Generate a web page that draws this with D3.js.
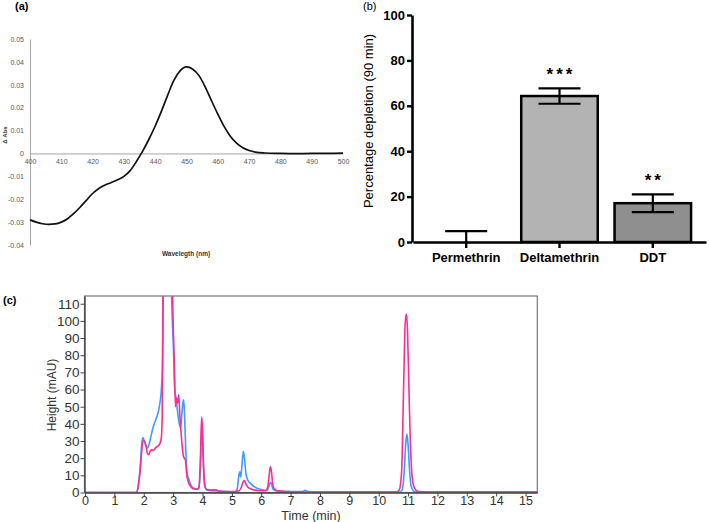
<!DOCTYPE html>
<html>
<head>
<meta charset="utf-8">
<script src="https://cdn.jsdelivr.net/npm/d3@7"></script>
<style>
  body { margin: 0; background: #fff; }
  svg { display: block; font-family: "Liberation Sans", Arial, sans-serif; }
</style>
</head>
<body>
<script>
// panel (a): difference spectrum
var aWavelength = [400, 402, 404, 406, 408, 410, 412, 414, 416, 418, 420, 422, 424, 426, 428, 430, 432, 434, 436, 438,
                   440, 442, 444, 446, 448, 450, 452, 454, 456, 458, 460, 462, 464, 466, 468, 470, 472, 475, 480, 485, 490, 495, 500];
var aDeltaAbs = [-0.0290, -0.0300, -0.0307, -0.0310, -0.0308, -0.0300, -0.0285, -0.0262, -0.0235, -0.0205, -0.0175,
                 -0.0153, -0.0138, -0.0127, -0.0115, -0.0100, -0.0075, -0.0035, 0.0010, 0.0062, 0.0120, 0.0185, 0.0255,
                 0.0320, 0.0362, 0.0378, 0.0368, 0.0340, 0.0290, 0.0230, 0.0172, 0.0118, 0.0075, 0.0045, 0.0025, 0.0013,
                 0.0006, 0.0002, 0.0000, -0.0001, 0.0000, 0.0000, 0.0001];
var aTicksX = [400, 410, 420, 430, 440, 450, 460, 470, 480, 490, 500];
var aTicksY = [0.05, 0.04, 0.03, 0.02, 0.01, 0, -0.01, -0.02, -0.03, -0.04];

// panel (b): percentage depletion
var bCategories = ["Permethrin", "Deltamethrin", "DDT"];
var bMeans = [0, 64.3, 17.1];
var bErrors = [4.8, 3.4, 3.9];
var bStars = ["", "***", "**"];
var bFills = ["#ffffff", "#b3b3b3", "#8f8f8f"];
var bTicksY = [0, 20, 40, 60, 80, 100];

// panel (c): chromatograms
var cBlueTime = [0, 1.75, 1.82, 1.88, 1.93, 1.97, 2.02, 2.08, 2.13, 2.18, 2.25, 2.32, 2.4, 2.48, 2.55, 2.6, 2.64, 2.67,
                 2.8, 2.93, 2.97, 3.01, 3.05, 3.1, 3.16, 3.21, 3.25, 3.29, 3.33, 3.36, 3.39, 3.43, 3.47, 3.53, 3.6, 3.7,
                 3.82, 3.88, 3.93, 3.97, 4.0, 4.04, 4.08, 4.15, 4.4, 4.8, 5.1, 5.18, 5.24, 5.27, 5.3, 5.34, 5.39, 5.43,
                 5.48, 5.55, 5.65, 5.8, 6.0, 6.2, 6.27, 6.31, 6.35, 6.4, 6.5, 7.0, 7.4, 7.5, 7.58, 8.0, 10.7, 10.8,
                 10.86, 10.92, 10.96, 11.0, 11.05, 11.1, 11.18, 11.3, 15.4];
var cBlueHeight = [0, 0, 4, 15, 28, 32, 30, 27, 26, 28, 33, 38, 42, 46, 52, 60, 75, 130,
                   400, 130, 102, 85, 62, 55, 46, 40, 38, 44, 52, 54, 45, 25, 12, 8, 4.5, 2.5,
                   2, 3, 15, 36, 30, 12, 3.5, 1.5, 1, 0.5, 0.4, 2, 10, 12, 9, 15, 24, 20,
                   11, 7, 5, 3, 1.8, 1.2, 4, 6, 5, 2, 1, 0.6, 0.5, 1.3, 0.6, 0.2, 0.2, 1.5,
                   10, 28, 34, 28, 13, 4, 1, 0.2, 0.2];
var cPinkTime = [0, 1.76, 1.82, 1.88, 1.93, 1.97, 2.02, 2.08, 2.12, 2.17, 2.22, 2.27, 2.33, 2.4, 2.48, 2.55, 2.6, 2.63,
                 2.66, 2.8, 2.96, 3.0, 3.04, 3.08, 3.11, 3.15, 3.19, 3.23, 3.28, 3.34, 3.38, 3.42, 3.46, 3.52, 3.6, 3.7,
                 3.82, 3.88, 3.93, 3.97, 4.0, 4.04, 4.08, 4.14, 4.3, 4.45, 4.55, 5.0, 5.25, 5.32, 5.38, 5.42, 5.48, 5.55,
                 5.7, 5.9, 6.15, 6.22, 6.27, 6.31, 6.35, 6.39, 6.45, 6.6, 7.0, 8.0, 10.6, 10.7, 10.78, 10.84, 10.9,
                 10.94, 10.98, 11.03, 11.08, 11.14, 11.22, 11.35, 12.0, 15.4];
var cPinkHeight = [0, 0, 5, 13, 24, 30, 30, 27, 23, 22, 24, 25, 24.5, 26, 27, 28.5, 32, 45,
                   130, 400, 130, 100, 75, 50, 55, 52, 57, 45, 33, 22, 20, 19, 11, 6, 3.5, 2,
                   1.8, 3, 20, 44, 38, 15, 4, 1.8, 1.5, 1.6, 0.8, 0.5, 1, 3, 6, 7, 5, 3,
                   1.8, 1.2, 1, 3, 10, 15, 12, 5, 2, 0.8, 0.3, 0.2, 0.2, 1.5, 12, 55, 98,
                   104, 95, 60, 28, 9, 2.5, 0.5, 0.2, 0.2];
var cTicksX = d3.range(0, 16);
var cTicksY = d3.range(0, 111, 10);

var svg = d3.select("body").append("svg")
    .attr("width", 709)
    .attr("height", 522);

// ---------- (a) ----------
var xA = d3.scaleLinear().domain([400, 500]).range([30, 343]);
var yA = d3.scaleLinear().domain([-0.04, 0.05]).range([245, 39]);

var fmtA = function(d) { return d === 0 ? "0" : (d < 0 ? "-" : "") + Math.abs(d).toFixed(2); };

var ayAxis = svg.append("g")
    .attr("transform", "translate(30,0)")
    .call(d3.axisLeft(yA).tickValues(aTicksY).tickSize(0).tickSizeOuter(0).tickPadding(6).tickFormat(fmtA));
var axAxis = svg.append("g")
    .attr("transform", "translate(0," + yA(0) + ")")
    .call(d3.axisBottom(xA).tickValues(aTicksX).tickSize(0).tickSizeOuter(0).tickPadding(6));
[ayAxis, axAxis].forEach(function(g) {
  g.select(".domain").attr("stroke", "#a6a6a6");
  g.selectAll("text").attr("fill", "#595959").style("font-size", "7px");
});

svg.append("path")
    .datum(aWavelength)
    .attr("fill", "none")
    .attr("stroke", "#111")
    .attr("stroke-width", 1.7)
    .attr("d", d3.line()
      .x(function(d) { return xA(d); })
      .y(function(d, i) { return yA(aDeltaAbs[i]); })
      .curve(d3.curveMonotoneX));

svg.append("text").attr("x", 15).attr("y", 10)
    .style("font-size", "11px").style("font-weight", "bold").text("(a)");
svg.append("text")
    .attr("transform", "translate(7,135) rotate(-90)")
    .attr("text-anchor", "middle")
    .style("font-size", "6px").style("font-weight", "bold").attr("fill", "#333")
    .text("\u0394 Abs");
svg.append("text").attr("x", 186).attr("y", 256)
    .attr("text-anchor", "middle")
    .style("font-size", "6.5px").style("font-weight", "bold").attr("fill", "#333")
    .text("Wavelegth (nm)");

// ---------- (b) ----------
var xB = d3.scaleBand().domain(bCategories).range([413, 706]).paddingInner(0.18).paddingOuter(0.16);
var yB = d3.scaleLinear().domain([0, 100]).range([242, 15]);
var bw = xB.bandwidth();

svg.append("g").selectAll("rect")
  .data(bCategories)
  .enter().append("rect")
    .attr("x", function(d) { return xB(d); })
    .attr("y", function(d, i) { return yB(bMeans[i]); })
    .attr("width", bw)
    .attr("height", function(d, i) { return yB(0) - yB(bMeans[i]); })
    .attr("fill", function(d, i) { return bFills[i]; })
    .attr("stroke", "#000")
    .attr("stroke-width", 2.5);

var eb = svg.append("g").attr("stroke", "#000").attr("stroke-width", 2.2);
bCategories.forEach(function(c, i) {
  var cx = xB(c) + bw / 2;
  var hi = bMeans[i] + bErrors[i];
  var lo = Math.max(0, bMeans[i] - bErrors[i]);
  eb.append("line").attr("x1", cx).attr("x2", cx).attr("y1", yB(lo)).attr("y2", yB(hi));
  eb.append("line").attr("x1", cx - 21).attr("x2", cx + 21).attr("y1", yB(hi)).attr("y2", yB(hi));
  if (bMeans[i] - bErrors[i] > 0) {
    eb.append("line").attr("x1", cx - 21).attr("x2", cx + 21).attr("y1", yB(lo)).attr("y2", yB(lo));
  }
  if (bStars[i]) {
    svg.append("text")
      .attr("x", cx + 1.5)
      .attr("y", yB(hi) - 8)
      .attr("text-anchor", "middle")
      .style("font-size", "17px").style("font-weight", "bold").style("letter-spacing", "3px")
      .text(bStars[i]);
  }
});

var byAxis = svg.append("g")
    .attr("transform", "translate(412,0)")
    .call(d3.axisLeft(yB).tickValues(bTicksY).tickSize(5).tickSizeOuter(0).tickPadding(2));
var bxAxis = svg.append("g")
    .attr("transform", "translate(0,242)")
    .call(d3.axisBottom(xB).tickSize(6).tickSizeOuter(0).tickPadding(5));
[byAxis, bxAxis].forEach(function(g) {
  g.select(".domain").attr("stroke", "#000").attr("stroke-width", 2.6);
  g.selectAll(".tick line").attr("stroke", "#000").attr("stroke-width", 2.4);
  g.selectAll("text").attr("fill", "#000").style("font-size", "13px").style("font-weight", "bold")
    .style("font-family", "Liberation Sans, Arial, sans-serif");
});

svg.append("text").attr("x", 363).attr("y", 10)
    .style("font-size", "11px").text("(b)");
svg.append("text")
    .attr("transform", "translate(373,121) rotate(-90)")
    .attr("text-anchor", "middle")
    .style("font-size", "13px")
    .text("Percentage depletion (90 min)");

// ---------- (c) ----------
var xC = d3.scaleLinear().domain([0, 15.4]).range([85, 537.3]);
var yC = d3.scaleLinear().domain([0, 114.5]).range([492.5, 296]);

svg.append("defs").append("clipPath").attr("id", "clipC")
  .append("rect").attr("x", 85).attr("y", 296).attr("width", 452.3).attr("height", 196.5);

svg.append("rect")
    .attr("x", 84.5).attr("y", 296).attr("width", 452.8).attr("height", 196.5)
    .attr("fill", "none").attr("stroke", "#777").attr("stroke-width", 1.2);

var lineC = function(times, heights) {
  return d3.line()
    .x(function(d) { return xC(d); })
    .y(function(d, i) { return yC(heights[i]); })
    .curve(d3.curveMonotoneX)(times);
};
var plotC = svg.append("g").attr("clip-path", "url(#clipC)");
plotC.append("path")
    .attr("d", lineC(cBlueTime, cBlueHeight))
    .attr("fill", "none").attr("stroke", "#3d9bff").attr("stroke-width", 1.6);
plotC.append("path")
    .attr("d", lineC(cPinkTime, cPinkHeight))
    .attr("fill", "none").attr("stroke", "#ff2c91").attr("stroke-width", 1.6);

var cyAxis = svg.append("g")
    .attr("transform", "translate(84.5,0)")
    .call(d3.axisLeft(yC).tickValues(cTicksY).tickSize(4).tickSizeOuter(0).tickPadding(1));
var cxAxis = svg.append("g")
    .attr("transform", "translate(0,492.5)")
    .call(d3.axisBottom(xC).tickValues(cTicksX).tickSize(4).tickSizeOuter(0).tickPadding(0));
[cyAxis, cxAxis].forEach(function(g) {
  g.select(".domain").attr("stroke", "#444").attr("stroke-width", 1.4);
  g.selectAll(".tick line").attr("stroke", "#444");
  g.selectAll("text").attr("fill", "#333")
    .style("font-family", "Liberation Sans, Arial, sans-serif");
});
cyAxis.selectAll("text").style("font-size", "13.5px");
cxAxis.selectAll("text").style("font-size", "12.5px");

svg.append("text").attr("x", 3).attr("y", 304)
    .style("font-size", "11px").style("font-weight", "bold").text("(c)");
svg.append("text")
    .attr("transform", "translate(56,395) rotate(-90)")
    .attr("text-anchor", "middle")
    .attr("fill", "#333")
    .style("font-size", "12px")
    .text("Height (mAU)");
svg.append("text").attr("x", 311).attr("y", 520)
    .attr("text-anchor", "middle")
    .attr("fill", "#333")
    .style("font-size", "12.5px")
    .text("Time (min)");
</script>
</body>
</html>
